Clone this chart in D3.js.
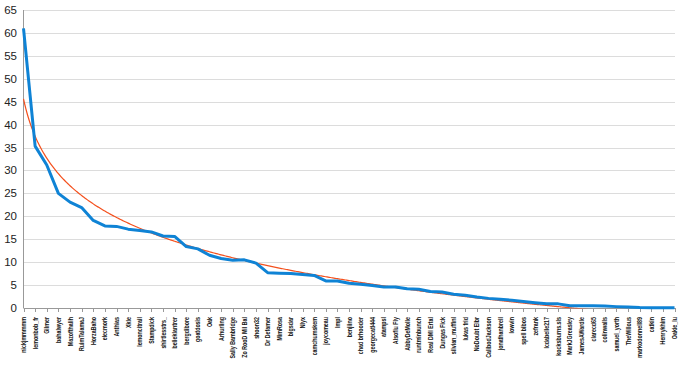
<!DOCTYPE html>
<html><head><meta charset="utf-8">
<script src="https://cdn.jsdelivr.net/npm/d3@7"></script>
<style>body{margin:0;background:#fff}svg{display:block}</style>
</head><body><svg id="c" width="681" height="368"></svg>
<script>
const categories = ["nickjmmmmm","lemonbob_fr","Gilmer","bahalwyer","Mazofthalih","RuimTalamaJ","HorzaBaho","elecmork","Anthias","Xkle","lemoncitrail","Stampdick","shirtlesstrs_","belieklantrer","bergdibore","goatdosis","Oak","Arhurling","Sally Bambridge","Zo RooD Mil Bal","shoon32","Dr Defamer","MimRosa","bigsdar","Nlyx","camchumskem","joycomeau","lmpl","benjiino","chad brhooder","georgecatl444","atampsl","Alsoflu Fly","AbbyDeMolle","runtminbunch","Real DMI Ertal","Dungas Fick","silvian_muffinl","lukas frid","NoDoubt Elbr","CalibodJackson","jonathanbrell","lowvin","spell bibos","zefrank","lcdabelle217","kocksburns.sls","MarkJGreasley","JamesAWardle","clarecd65","colinwalls","samuel_yorth","TheWillous","markodonnell89","catkin","Henrykhim","Oakie_lu"];
const values = [61.0,35.3,31.2,25.0,23.1,21.9,19.1,17.9,17.8,17.2,16.9,16.6,15.7,15.6,13.4,12.9,11.5,10.8,10.4,10.5,9.8,7.7,7.6,7.5,7.3,7.1,5.9,5.9,5.4,5.2,4.9,4.6,4.6,4.2,4.1,3.6,3.5,3.0,2.8,2.4,2.1,1.9,1.7,1.4,1.15,0.95,0.9,0.5,0.5,0.5,0.45,0.3,0.2,0.1,0.08,0.08,0.08];
const yTicks = [0,5,10,15,20,25,30,35,40,45,50,55,60,65];

const svg = d3.select("#c");
const x = d3.scalePoint().domain(categories).range([23.5, 674.5]);
const y = d3.scaleLinear().domain([0,65]).range([308, 10]);

// gridlines
svg.append("g").selectAll("line").data(yTicks.filter(d=>d>0)).join("line")
  .attr("x1",23.5).attr("x2",675).attr("y1",d=>Math.round(y(d))+0.5).attr("y2",d=>Math.round(y(d))+0.5)
  .attr("stroke","#dcdcdc").attr("stroke-width",1);

// y labels
svg.append("g").selectAll("text").data(yTicks).join("text")
  .attr("x",17).attr("y",d=>y(d)+4).attr("text-anchor","end")
  .attr("font-family","Liberation Sans, Arial, sans-serif").attr("font-size",11.5).attr("fill","#222")
  .text(d=>d);

// axes lines
svg.append("line").attr("x1",23.5).attr("x2",23.5).attr("y1",10).attr("y2",308).attr("stroke","#999");
svg.append("line").attr("x1",23.5).attr("x2",675).attr("y1",308.5).attr("y2",308.5).attr("stroke","#999");
svg.append("g").selectAll("line").data(categories).join("line")
  .attr("x1",d=>Math.round(x(d))+0.5).attr("x2",d=>Math.round(x(d))+0.5).attr("y1",308).attr("y2",312)
  .attr("stroke","#999");

// x labels
svg.append("g").selectAll("text").data(categories).join("text")
  .attr("transform",d=>`translate(${x(d)+2.5},317) rotate(-90) scale(0.76,1)`)
  .attr("text-anchor","end")
  .attr("font-family","Liberation Sans, Arial, sans-serif").attr("font-size",7).attr("font-weight","bold").attr("fill","#111")
  .text(d=>d);

// log trend (least squares y = a + b ln(i+1))
const n = values.length;
const lx = values.map((v,i)=>Math.log(i+1));
const mx = d3.mean(lx), my = d3.mean(values);
const b = d3.sum(lx.map((l,i)=>(l-mx)*(values[i]-my))) / d3.sum(lx.map(l=>(l-mx)*(l-mx)));
const a = my - b*mx;

svg.append("defs").append("clipPath").attr("id","clip").append("rect")
  .attr("x",23).attr("y",0).attr("width",655).attr("height",308.5);

svg.append("path").datum(d3.range(0, n-1+0.01, 0.1))
  .attr("clip-path","url(#clip)")
  .attr("fill","none").attr("stroke","#f4511e").attr("stroke-width",1.2)
  .attr("d", d3.line().x(t=>23.5 + t*(x.step())).y(t=>y(a + b*Math.log(t+1))));

svg.append("path").datum(values)
  .attr("fill","none").attr("stroke","#0f83d5").attr("stroke-width",3).attr("stroke-linejoin","round")
  .attr("d", d3.line().x((v,i)=>x(categories[i])).y(v=>y(v)));
</script></body></html>
